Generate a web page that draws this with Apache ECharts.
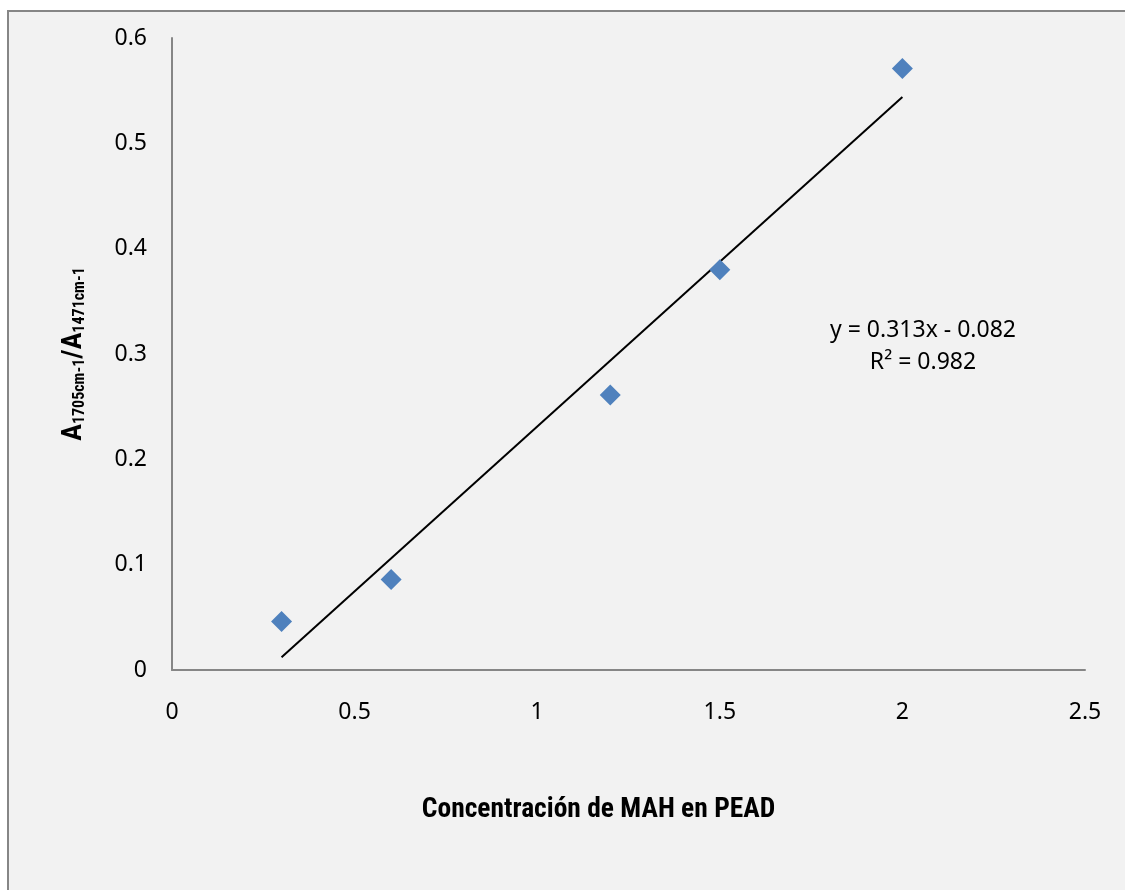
<!DOCTYPE html>
<html>
<head>
<meta charset="utf-8">
<script src="https://cdn.jsdelivr.net/npm/echarts@6/dist/echarts.min.js"></script>
<style>
html,body{margin:0;padding:0;background:#ffffff;}
#chart{width:1125px;height:890px;}
</style>
</head>
<body>
<div id="chart"></div>
<script>
// Data
const concentration = [0.3, 0.6, 1.2, 1.5, 2.0];
const absorbanceRatio = [0.046, 0.086, 0.261, 0.380, 0.571];
// Linear trendline endpoints (as drawn in reference)
const trendX = [0.3, 2.0];
const trendY = [0.012, 0.544];
const equationLines = ['y = 0.313x - 0.082', 'R² = 0.982'];
const xTicks = [0, 0.5, 1, 1.5, 2, 2.5];
const yTicks = [0, 0.1, 0.2, 0.3, 0.4, 0.5, 0.6];

const chart = echarts.init(document.getElementById('chart'), null, {renderer: 'canvas'});
const tickFont = '"Noto Sans", "Open Sans", sans-serif';
const narrowBold = '"Liberation Sans Narrow", "Arial Narrow", "Roboto Condensed", "Liberation Sans", sans-serif';

chart.setOption({
  backgroundColor: '#ffffff',
  animation: false,
  graphic: [
    {type: 'rect', z: -10, silent: true,
     shape: {x: 8, y: 11, width: 1200, height: 1000},
     style: {fill: '#f2f2f2', stroke: '#868686', lineWidth: 2}},
    {type: 'text', z: 10, x: 923, y: 314,
     style: {text: equationLines.join('\n'), align: 'center', verticalAlign: 'top',
             fontSize: 23, fontFamily: '"Noto Sans", sans-serif', fill: '#000', lineHeight: 32}}
  ],
  grid: {left: 172, right: 40, top: 38, bottom: 220, containLabel: false},
  xAxis: {
    type: 'value', min: 0, max: 2.5, interval: 0.5,
    axisLine: {show: true, lineStyle: {color: '#868686', width: 2}},
    axisTick: {show: false},
    splitLine: {show: false},
    axisLabel: {margin: 31, color: '#000', fontSize: 23, fontFamily: tickFont,
                formatter: v => String(v)},
    name: 'Concentración de MAH en PEAD',
    nameLocation: 'middle', nameGap: 126,
    nameTextStyle: {color: '#000', fontSize: 27.5, fontWeight: 'bold', fontFamily: narrowBold,
                    padding: [0, 60, 0, 0]}
  },
  yAxis: {
    type: 'value', min: 0, max: 0.6, interval: 0.1,
    axisLine: {show: true, lineStyle: {color: '#868686', width: 2}},
    axisTick: {show: false},
    splitLine: {show: false},
    axisLabel: {margin: 25, color: '#000', fontSize: 23, fontFamily: tickFont,
                formatter: v => String(Math.round(v * 10) / 10)},
    name: '{a|A}{s|1705cm-1}{a|/A}{s|1471cm-1}',
    nameLocation: 'middle', nameRotate: 90, nameGap: 84,
    nameTextStyle: {
      color: '#000',
      rich: {
        a: {fontSize: 28, fontWeight: 'bold', fontFamily: narrowBold, color: '#000', verticalAlign: 'bottom', lineHeight: 32},
        s: {fontSize: 16, fontWeight: 'bold', fontFamily: narrowBold, color: '#000', verticalAlign: 'bottom', lineHeight: 28}
      }
    }
  },
  series: [
    {
      type: 'line', data: trendX.map((x, i) => [x, trendY[i]]),
      showSymbol: false, symbol: 'none',
      lineStyle: {color: '#000', width: 2}, z: 2, silent: true
    },
    {
      type: 'scatter', data: concentration.map((x, i) => [x, absorbanceRatio[i]]),
      symbol: 'diamond', symbolSize: 21,
      itemStyle: {color: '#4f81bd', opacity: 1}, z: 3
    }
  ]
});
</script>
</body>
</html>
